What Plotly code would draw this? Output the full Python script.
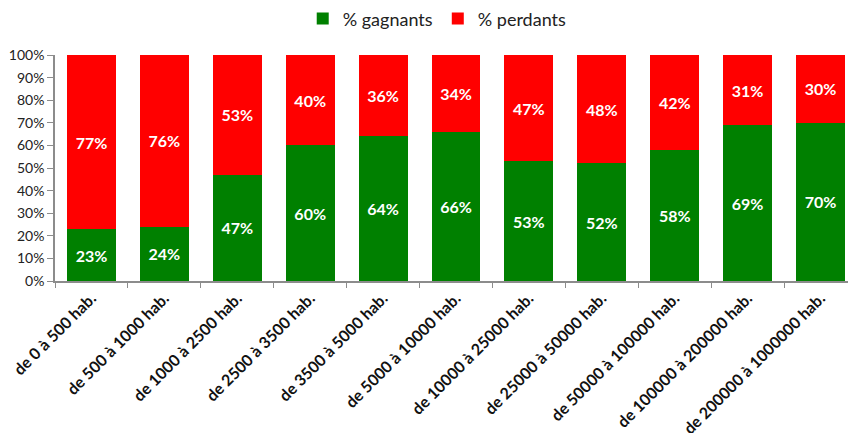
import plotly.graph_objects as go

categories = [
    "de 0 à 500 hab.", "de 500 à 1000 hab.", "de 1000 à 2500 hab.",
    "de 2500 à 3500 hab.", "de 3500 à 5000 hab.", "de 5000 à 10000 hab.",
    "de 10000 à 25000 hab.", "de 25000 à 50000 hab.", "de 50000 à 100000 hab.",
    "de 100000 à 200000 hab.", "de 200000 à 1000000 hab.",
]
gagnants = [23, 24, 47, 60, 64, 66, 53, 52, 58, 69, 70]
perdants = [77, 76, 53, 40, 36, 34, 47, 48, 42, 31, 30]
y_ticks = list(range(0, 101, 10))
y_tick_labels = [f"{v}%" for v in y_ticks]

font_family = "Lato, 'Open Sans', sans-serif"
label_font = dict(color="white", size=16, family=font_family, weight="bold")

fig = go.Figure()
fig.add_trace(go.Bar(
    x=categories, y=gagnants, name="% gagnants",
    marker=dict(color="#008000", line=dict(width=0)),
    text=[f"{v}%" for v in gagnants], textposition="inside",
    insidetextanchor="middle", textfont=label_font, width=0.67,
))
fig.add_trace(go.Bar(
    x=categories, y=perdants, name="% perdants",
    marker=dict(color="#FF0000", line=dict(width=0)),
    text=[f"{v}%" for v in perdants], textposition="inside",
    insidetextanchor="middle", textfont=label_font, width=0.67,
))

fig.update_layout(
    barmode="stack",
    width=848, height=433,
    margin=dict(l=55, r=0, t=55, b=152, autoexpand=False),
    paper_bgcolor="white", plot_bgcolor="white",
    font=dict(family=font_family, color="#222222", size=13),
    showlegend=True,
    legend=dict(
        orientation="h", x=0.482, xanchor="center", y=1.16, yanchor="middle",
        font=dict(size=18, color="#222222"), traceorder="normal",
        itemwidth=30,
    ),
    uniformtext=dict(minsize=15, mode="show"),
)
fig.update_xaxes(
    range=[-0.5, 10.377],
    tickangle=-45, tickson="boundaries",
    ticks="outside", ticklen=5, tickcolor="#8c8c8c",
    showline=True, linecolor="#8c8c8c", linewidth=1.5,
    tickfont=dict(size=16, color="#111111", weight="bold"),
    showgrid=False,
)
fig.update_yaxes(
    range=[0, 100], tickvals=y_ticks, ticktext=y_tick_labels,
    ticks="outside", ticklen=6, tickcolor="#8c8c8c",
    showline=True, linecolor="#8c8c8c", linewidth=1.5,
    tickfont=dict(size=14, color="#222222"),
    showgrid=False, zeroline=False,
)

fig.write_html("out.html")
